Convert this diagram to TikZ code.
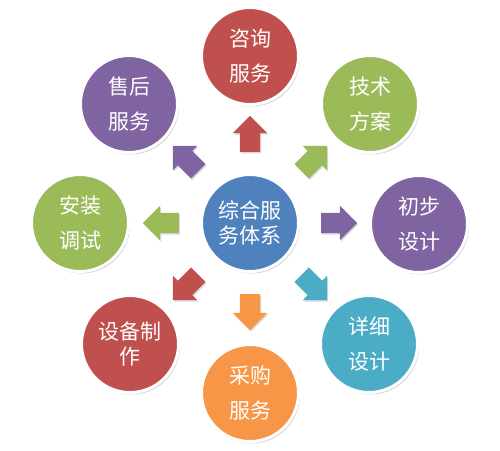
\documentclass[tikz,border=0pt]{standalone}
\usepackage{fontspec}
\newfontfamily\cjk{Noto Sans CJK SC}
\usetikzlibrary{shapes.arrows,shadows,calc}
\definecolor{cred}{HTML}{C0504D}
\definecolor{cgreen}{HTML}{9BBB59}
\definecolor{cpurple}{HTML}{8064A2}
\definecolor{cblue}{HTML}{4F81BD}
\definecolor{cteal}{HTML}{4BACC6}
\definecolor{corange}{HTML}{F79646}
\begin{document}
\begin{tikzpicture}[x=1pt,y=-1pt,
  ball/.style={circle,draw=white,line width=3pt,minimum size=97pt,inner sep=0pt,
    text=white,align=center,font=\cjk\fontsize{21}{35}\selectfont,
    drop shadow={shadow xshift=1.5pt,shadow yshift=-2pt,opacity=0.3,fill=black!60}},
  tight/.style={font=\cjk\fontsize{21}{25}\selectfont},
  arr/.style={single arrow,minimum height=36pt,inner xsep=0pt,inner ysep=10pt,
    single arrow head extend=7pt,single arrow tip angle=90,draw=none,
    drop shadow={shadow xshift=1pt,shadow yshift=-1.5pt,opacity=0.25,fill=black!60}}
]
\useasboundingbox (0,0) rectangle (500,450);
\node[ball,fill=cblue,tight] (c) at (250,223) {综合服\\务体系};
\node[ball,fill=cred] (n1) at (250,56) {咨询\\服务};
\node[ball,fill=cgreen] (n2) at (370,104) {技术\\方案};
\node[ball,fill=cpurple] (n3) at (419,224) {初步\\设计};
\node[ball,fill=cteal] (n4) at (369,344) {详细\\设计};
\node[ball,fill=corange] (n5) at (250,393) {采购\\服务};
\node[ball,fill=cred,tight] (n6) at (130,344) {设备制\\作};
\node[ball,fill=cgreen] (n7) at (80,223) {安装\\调试};
\node[ball,fill=cpurple] (n8) at (129,104) {售后\\服务};
\foreach \a/\d/\col/\n in {90/84/cred/a1,45/86/cgreen/a2,0/84/cpurple/a3,-45/86/cteal/a4,
  -90/84/corange/a5,-135/86/cred/a6,180/84/cgreen/a7,135/86/cpurple/a8}
  \node[arr,fill=\col,rotate=\a] (\n) at ($(c)+(\a:\d pt)$) {};
\end{tikzpicture}
\end{document}
